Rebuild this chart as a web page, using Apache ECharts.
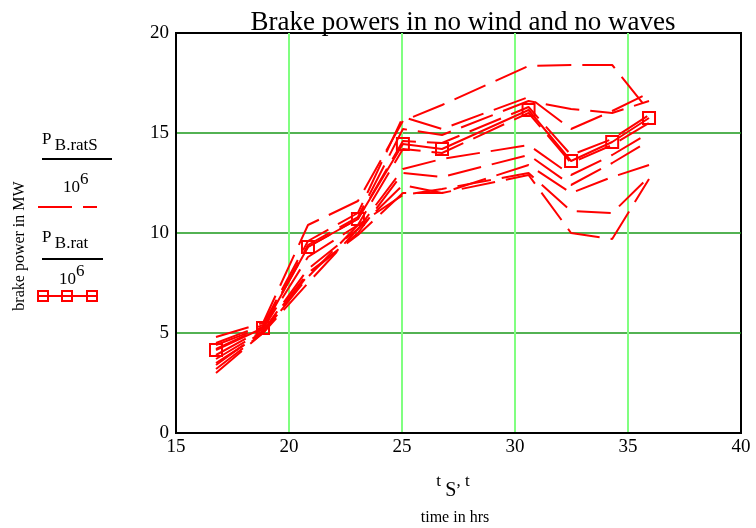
<!DOCTYPE html>
<html>
<head>
<meta charset="utf-8">
<script src="https://cdn.jsdelivr.net/npm/echarts@6/dist/echarts.min.js"></script>
<style>
  html, body { margin: 0; padding: 0; background: #fff; }
  #chart { width: 756px; height: 528px; }
</style>
</head>
<body>
<div id="chart"></div>
<script>
// Voyage times (hrs) at the route waypoints
const timesHrs = [16.77, 18.85, 20.84, 23.05, 25.04, 26.77, 30.6, 32.48, 34.3, 35.93];

// Rated brake power along the route, MW (P_B.rat / 10^6)
const brakePowerRated = [4.15, 5.25, 9.3, 10.7, 14.45, 14.2, 16.15, 13.6, 14.55, 15.75];

// Simulated brake power realisations, MW (P_B.ratS / 10^6)
const simRun1  = [4.8, 5.5, 10.4, 11.6, 15.6, 16.4, 18.35, 18.4, 18.4, 16.1];
const simRun2  = [4.5, 5.4, 9.6, 11.0, 15.8, 15.2, 16.8, 15.2, 16.1, 17.0];
const simRun3  = [4.4, 5.3, 9.4, 10.8, 15.2, 14.9, 16.6, 16.2, 16.0, 16.6];
const simRun4  = [4.2, 5.3, 9.3, 10.7, 14.6, 14.5, 16.3, 13.9, 14.7, 15.9];
const simRun5  = [3.9, 5.2, 8.8, 10.4, 14.2, 14.0, 16.0, 13.5, 14.4, 15.5];
const simRun6  = [3.7, 5.1, 8.2, 10.2, 13.2, 13.7, 14.4, 12.9, 13.9, 15.0];
const simRun7  = [3.5, 5.0, 7.9, 10.0, 13.0, 12.8, 13.9, 12.4, 13.5, 14.6];
const simRun8  = [3.2, 5.0, 7.5, 10.2, 12.4, 12.0, 13.4, 12.0, 12.8, 13.4];
const simRun9  = [3.0, 5.0, 7.8, 10.4, 11.9, 12.2, 13.0, 11.1, 11.0, 12.8];
const simRun10 = [3.4, 5.1, 8.0, 9.9, 12.0, 12.0, 12.9, 10.0, 9.7, 12.7];
const simRuns = [simRun1, simRun2, simRun3, simRun4, simRun5, simRun6, simRun7, simRun8, simRun9, simRun10];

// Axis tick settings
const xMin = 15, xMax = 40, xStep = 5;
const yMin = 0, yMax = 20, yStep = 5;

const FONT = '"Liberation Serif", "DejaVu Serif", serif';
const RED = '#ff0000';

const pairs = (xs, ys) => xs.map((x, i) => [x, ys[i]]);

const series = simRuns.map((run, k) => ({
  name: 'P_B.ratS run ' + (k + 1),
  type: 'line',
  data: pairs(timesHrs, run),
  symbol: 'none',
  silent: true,
  animation: false,
  lineStyle: { color: RED, width: 2, type: [34, 11] },
  z: 2
}));

series.push({
  name: 'P_B.rat',
  type: 'line',
  data: pairs(timesHrs, brakePowerRated),
  symbol: 'rect',
  symbolSize: 12,
  animation: false,
  lineStyle: { color: RED, width: 2 },
  itemStyle: { color: 'rgba(255,255,255,0)', borderColor: RED, borderWidth: 2 },
  z: 3
});

const chart = echarts.init(document.getElementById('chart'), null, { renderer: 'canvas' });

chart.setOption({
  backgroundColor: '#ffffff',
  animation: false,
  title: {
    text: 'Brake powers in no wind and no waves',
    left: 458, top: 4, textAlign: 'center',
    textStyle: { fontFamily: FONT, fontSize: 27, fontWeight: 'normal', color: '#000' }
  },
  grid: {
    left: 176, top: 33, width: 565, height: 400,
    show: true, borderColor: '#000', borderWidth: 2, backgroundColor: 'transparent'
  },
  xAxis: {
    type: 'value', min: xMin, max: xMax, interval: xStep,
    axisLine: { show: true, lineStyle: { color: '#000', width: 2 } },
    axisTick: { show: false },
    axisLabel: { fontFamily: FONT, fontSize: 19, color: '#000', margin: 5 },
    splitLine: { show: true, showMinLine: false, showMaxLine: false,
      lineStyle: { color: '#80ff80', width: 2, opacity: 1 } }
  },
  yAxis: {
    type: 'value', min: yMin, max: yMax, interval: yStep,
    axisLine: { show: true, lineStyle: { color: '#000', width: 2 } },
    axisTick: { show: false },
    axisLabel: { fontFamily: FONT, fontSize: 19, color: '#000', margin: 7 },
    splitLine: { show: true, showMinLine: false, showMaxLine: false,
      lineStyle: { color: ['#1a991a'], width: 1.5, opacity: 1 } }
  },
  series: series,
  graphic: [
    // y axis caption
    { type: 'text', x: 20, y: 246, rotation: Math.PI / 2,
      style: { text: 'brake power in MW', font: '16px ' + FONT, fill: '#000', align: 'center', verticalAlign: 'middle' } },
    // x axis captions
    { type: 'text', x: 453, y: 487,
      style: { text: '{a|t }{s|S}{a|, t}', fill: '#000', align: 'center', verticalAlign: 'middle',
        rich: {
          a: { fontFamily: FONT, fontSize: 17, verticalAlign: 'top', padding: [0, 0, 8, 0] },
          s: { fontFamily: FONT, fontSize: 20, padding: [8, 0, 0, 0] }
        } } },
    { type: 'text', x: 455, y: 518,
      style: { text: 'time in hrs', font: '16px ' + FONT, fill: '#000', align: 'center', verticalAlign: 'middle' } },

    // legend entry: P_B.ratS / 10^6
    { type: 'text', x: 42, y: 143,
      style: { text: '{p|P} {s|B.ratS}', fill: '#000', verticalAlign: 'middle',
        rich: { p: { fontFamily: FONT, fontSize: 17, padding: [0, 0, 6, 0] }, s: { fontFamily: FONT, fontSize: 17, padding: [6, 0, 0, 0] } } } },
    { type: 'line', shape: { x1: 42, y1: 159, x2: 112, y2: 159 }, style: { stroke: '#000', lineWidth: 2 } },
    { type: 'text', x: 63, y: 184,
      style: { text: '{n|10}{e|6}', fill: '#000', verticalAlign: 'middle',
        rich: { n: { fontFamily: FONT, fontSize: 17, padding: [8, 0, 0, 0] }, e: { fontFamily: FONT, fontSize: 17, padding: [0, 0, 8, 0] } } } },
    { type: 'line', shape: { x1: 38, y1: 207, x2: 97, y2: 207 },
      style: { stroke: RED, lineWidth: 2, lineDash: [34, 11] } },

    // legend entry: P_B.rat / 10^6
    { type: 'text', x: 42, y: 241,
      style: { text: '{p|P} {s|B.rat}', fill: '#000', verticalAlign: 'middle',
        rich: { p: { fontFamily: FONT, fontSize: 17, padding: [0, 0, 6, 0] }, s: { fontFamily: FONT, fontSize: 17, padding: [6, 0, 0, 0] } } } },
    { type: 'line', shape: { x1: 42, y1: 259, x2: 103, y2: 259 }, style: { stroke: '#000', lineWidth: 2 } },
    { type: 'text', x: 59, y: 276,
      style: { text: '{n|10}{e|6}', fill: '#000', verticalAlign: 'middle',
        rich: { n: { fontFamily: FONT, fontSize: 17, padding: [8, 0, 0, 0] }, e: { fontFamily: FONT, fontSize: 17, padding: [0, 0, 8, 0] } } } },
    { type: 'line', shape: { x1: 38, y1: 296, x2: 97, y2: 296 }, style: { stroke: RED, lineWidth: 2 } },
    { type: 'rect', shape: { x: 38, y: 291, width: 10, height: 10 }, style: { stroke: RED, fill: 'none', lineWidth: 2 } },
    { type: 'rect', shape: { x: 62, y: 291, width: 10, height: 10 }, style: { stroke: RED, fill: 'none', lineWidth: 2 } },
    { type: 'rect', shape: { x: 87, y: 291, width: 10, height: 10 }, style: { stroke: RED, fill: 'none', lineWidth: 2 } }
  ]
});
</script>
</body>
</html>
